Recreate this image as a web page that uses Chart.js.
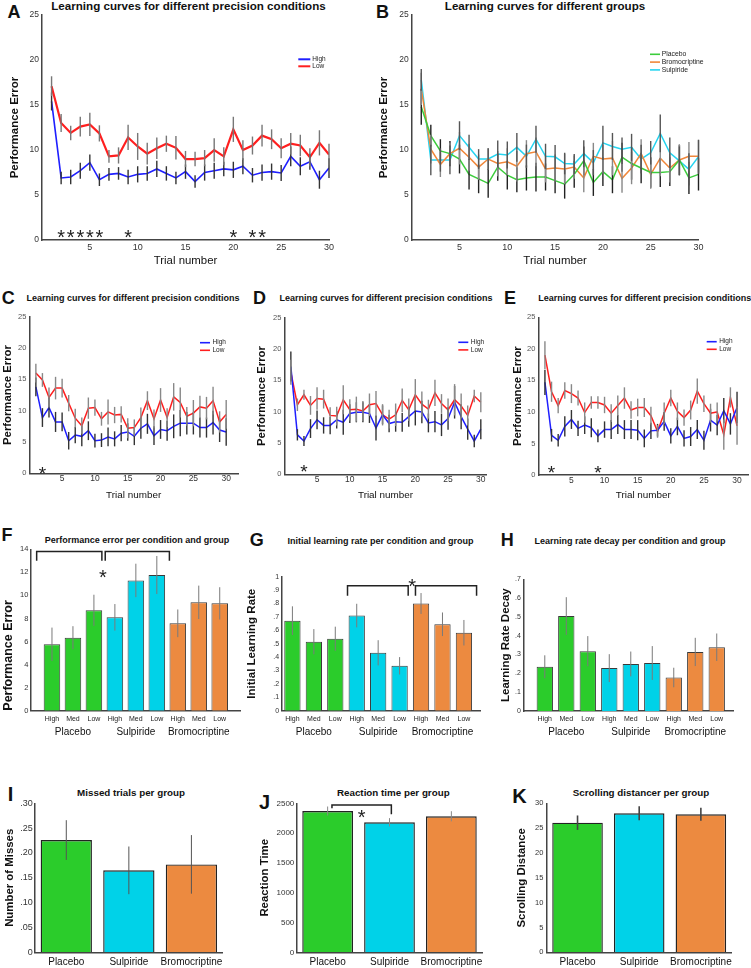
<!DOCTYPE html>
<html>
<head>
<meta charset="utf-8">
<script src="https://cdn.jsdelivr.net/npm/chart.js@4.4.1/dist/chart.umd.min.js"></script>
<style>
html, body { margin: 0; padding: 0; background: #fff; }
#fig { position: relative; width: 751px; height: 968px; overflow: hidden; background: #fff;
       font-family: "Liberation Sans", Arial, Helvetica, sans-serif; }
#fig canvas { position: absolute; }
.t { position: absolute; white-space: nowrap; line-height: 1; color: #111; font-weight: bold;
     transform: translate(-50%, -50%); }
.t.left { transform: translate(0, -50%); }
</style>
</head>
<body>
<div id="fig">
  <!-- panel letters -->
  <div class="t" style="left:14px;top:11.5px;font-size:18px">A</div>
  <div class="t" style="left:382.5px;top:11.5px;font-size:18px">B</div>
  <div class="t" style="left:8.3px;top:298.3px;font-size:18px">C</div>
  <div class="t" style="left:259.5px;top:298px;font-size:18px">D</div>
  <div class="t" style="left:510px;top:298px;font-size:18px">E</div>
  <div class="t" style="left:7px;top:534.5px;font-size:18px">F</div>
  <div class="t" style="left:256.7px;top:539.7px;font-size:18px">G</div>
  <div class="t" style="left:507.2px;top:540px;font-size:18px">H</div>
  <div class="t" style="left:10.5px;top:794px;font-size:20px">I</div>
  <div class="t" style="left:264.5px;top:802px;font-size:20px">J</div>
  <div class="t" style="left:519.5px;top:795.5px;font-size:20px">K</div>
  <!-- panel titles -->
  <div class="t" style="left:188.5px;top:5.5px;font-size:11.6px">Learning curves for different precision conditions</div>
  <div class="t" style="left:545px;top:5.5px;font-size:11.6px">Learning curves for different groups</div>
  <div class="t" style="left:133px;top:297.7px;font-size:9px">Learning curves for different precision conditions</div>
  <div class="t" style="left:386px;top:297.7px;font-size:9px">Learning curves for different precision conditions</div>
  <div class="t left" style="left:538.3px;top:297.7px;font-size:9px">Learning curves for different precision conditions</div>
  <div class="t" style="left:137px;top:540px;font-size:9px">Performance error per condition and group</div>
  <div class="t" style="left:380.6px;top:540.7px;font-size:9px">Initial learning rate per condition and group</div>
  <div class="t" style="left:630px;top:540.7px;font-size:9px">Learning rate decay per condition and group</div>
  <div class="t" style="left:131px;top:792.7px;font-size:9.8px">Missed trials per group</div>
  <div class="t" style="left:393.3px;top:792.7px;font-size:9.8px">Reaction time per group</div>
  <div class="t" style="left:641px;top:792.7px;font-size:9.8px">Scrolling distancer per group</div>
</div>
<script>
const FONT = '"Liberation Sans", Arial, Helvetica, sans-serif';
Chart.defaults.font.family = FONT;
Chart.defaults.color = '#333';

// colours
const BLUE = '#1f1fff';
const RED = '#ff1f1f';
const GREEN = '#2bcc2b';
const CYAN = '#00d2e8';
const ORANGE = '#ec8a40';

// trials on the x axis of the learning curves
const trials = [1, 2, 3, 4, 5, 6, 7, 8, 9, 10, 11, 12, 13, 14, 15, 16, 17, 18, 19, 20, 21, 22, 23, 24, 25, 26, 27, 28, 29, 30];

// A - all groups, high vs low precision
const highA = [15.4, 6.9, 7.0, 7.7, 8.6, 6.7, 7.3, 7.4, 7.0, 7.3, 7.4, 7.9, 7.4, 6.9, 7.6, 6.5, 7.5, 7.7, 7.9, 7.8, 8.2, 7.2, 7.5, 7.6, 7.45, 9.3, 8.2, 8.7, 6.7, 8.0];
const highAErr = [1.0, 0.7, 0.8, 0.9, 0.9, 0.7, 0.7, 0.7, 0.8, 0.9, 0.8, 0.9, 0.8, 0.7, 0.8, 0.7, 0.9, 0.9, 0.8, 0.9, 0.9, 0.8, 0.9, 0.9, 0.9, 1.1, 1.0, 0.9, 1.0, 1.1];
const lowA = [17.1, 13.0, 11.9, 12.6, 12.85, 11.85, 9.3, 9.4, 11.4, 10.4, 9.6, 10.2, 10.7, 10.25, 9.0, 9.0, 9.1, 10.0, 9.3, 12.3, 10.0, 10.5, 11.6, 11.2, 10.2, 10.7, 10.5, 9.2, 10.8, 9.5];
const lowAErr = [1.1, 1.0, 0.8, 1.1, 1.3, 0.9, 0.7, 0.9, 1.4, 1.5, 1.2, 1.2, 0.9, 1.3, 0.9, 0.8, 0.9, 1.3, 1.0, 1.4, 1.1, 1.0, 1.2, 1.1, 1.1, 1.2, 1.2, 1.0, 1.4, 1.2];
const sigA = [2, 3, 4, 5, 6, 9, 20, 22, 23];

// B - per group
const placeboB = [14.8, 11.6, 9.9, 9.6, 9.0, 7.3, 6.8, 6.3, 8.1, 7.2, 6.7, 6.9, 7.0, 7.0, 6.6, 6.2, 7.3, 8.8, 6.4, 7.6, 6.7, 9.2, 8.5, 8.0, 7.5, 7.5, 7.6, 8.9, 6.9, 7.3];
const placeboBErr = [2.0, 1.2, 1.3, 1.4, 1.6, 1.7, 1.6, 1.6, 1.5, 1.6, 1.4, 1.4, 1.6, 1.5, 1.4, 1.6, 1.5, 1.6, 1.5, 1.6, 1.5, 1.6, 1.8, 1.7, 1.7, 1.6, 1.6, 1.7, 1.8, 1.8];
const bromoB = [16.8, 10.1, 8.4, 9.6, 10.2, 9.2, 8.1, 9.0, 8.5, 8.7, 8.2, 9.6, 9.8, 7.9, 8.0, 7.9, 8.1, 6.9, 9.3, 9.0, 9.1, 6.85, 8.0, 9.6, 7.3, 9.1, 8.0, 8.9, 9.3, 9.3];
const bromoBErr = [1.8, 1.6, 1.4, 1.2, 1.8, 1.5, 1.4, 1.2, 1.4, 1.5, 1.7, 1.5, 1.6, 1.5, 1.5, 1.7, 1.3, 1.6, 1.5, 1.6, 1.9, 1.6, 1.8, 1.6, 1.6, 2.0, 1.6, 1.7, 1.6, 1.8];
const sulpB = [17.8, 8.9, 8.9, 8.9, 11.6, 10.3, 9.0, 9.0, 9.55, 9.45, 10.3, 9.3, 11.2, 9.3, 9.25, 8.5, 8.45, 9.6, 8.6, 10.8, 10.4, 10.1, 10.3, 9.0, 9.7, 11.85, 9.7, 8.8, 7.85, 9.25];
const sulpBErr = [1.2, 1.7, 1.3, 1.6, 1.6, 1.4, 1.1, 1.2, 1.5, 1.5, 1.6, 1.3, 1.5, 1.4, 1.3, 1.2, 1.1, 1.5, 1.4, 1.9, 1.5, 1.3, 1.5, 1.6, 1.3, 2.1, 1.7, 1.6, 1.8, 1.9];

// C
const highC = [13.8, 8.9, 10.5, 8.2, 8.2, 5.2, 6.1, 5.9, 6.8, 5.2, 5.3, 5.8, 5.5, 6.4, 6.6, 5.9, 7.2, 7.9, 6.0, 7.0, 6.8, 7.5, 8.0, 8.0, 8.0, 7.3, 7.3, 8.1, 6.9, 6.6];
const highCErr = [1.5, 1.5, 1.6, 1.6, 1.5, 1.4, 1.3, 1.6, 1.5, 1.1, 1.1, 1.5, 1.2, 1.3, 1.4, 1.4, 1.7, 1.6, 1.5, 1.5, 1.6, 1.9, 2.1, 1.8, 1.8, 1.6, 1.6, 1.9, 1.9, 2.2];
const lowC = [16.0, 14.9, 12.1, 13.6, 13.6, 11.2, 8.8, 7.6, 10.4, 10.5, 8.7, 9.8, 9.3, 9.4, 7.2, 7.3, 8.9, 11.6, 8.7, 11.7, 8.9, 12.2, 11.3, 9.1, 9.6, 10.6, 10.4, 11.6, 8.2, 9.4];
const lowCErr = [1.5, 1.1, 1.6, 1.8, 1.5, 1.3, 1.5, 1.3, 1.7, 1.3, 1.1, 2.0, 1.3, 1.3, 1.6, 1.3, 1.6, 1.5, 1.5, 1.9, 1.5, 2.2, 2.4, 1.5, 2.1, 1.8, 1.8, 2.2, 1.7, 2.3];
const sigC = [2];

// D
const highD = [17.2, 6.3, 5.3, 7.3, 8.7, 7.8, 7.8, 8.7, 8.3, 9.7, 9.9, 9.9, 9.7, 7.4, 9.5, 8.1, 8.4, 8.3, 9.2, 10.1, 9.95, 8.2, 8.4, 7.9, 8.9, 11.5, 9.2, 7.2, 5.3, 7.2];
const highDErr = [2.4, 0.9, 0.8, 1.5, 1.5, 1.3, 1.4, 1.4, 2.0, 1.5, 1.6, 1.6, 1.5, 2.0, 1.5, 1.4, 1.6, 1.5, 1.6, 2.3, 1.8, 1.5, 1.7, 1.8, 1.8, 2.6, 2.0, 1.7, 1.0, 1.6];
const lowD = [16.3, 11.1, 12.7, 11.0, 12.1, 12.0, 9.4, 9.3, 11.9, 10.3, 10.4, 10.1, 11.1, 11.3, 9.5, 8.8, 9.5, 11.8, 10.3, 12.7, 11.2, 10.4, 13.0, 11.3, 10.3, 11.9, 10.9, 9.4, 12.5, 11.5];
const lowDErr = [2.0, 1.0, 0.8, 1.5, 1.8, 1.5, 1.3, 1.5, 2.3, 1.7, 2.0, 1.6, 1.8, 2.0, 1.7, 1.5, 1.8, 1.9, 1.8, 2.5, 2.0, 1.5, 2.1, 1.5, 1.8, 2.5, 2.0, 1.6, 1.0, 1.6];
const sigD = [3];

// E
const highE = [14.7, 6.3, 5.5, 7.7, 8.8, 7.4, 7.9, 7.5, 6.2, 7.2, 7.2, 8.0, 7.2, 7.2, 7.1, 5.8, 7.0, 7.1, 8.5, 6.2, 7.7, 5.8, 6.1, 7.2, 5.5, 8.7, 7.9, 10.2, 8.1, 10.7];
const highEErr = [2.0, 1.0, 1.0, 1.6, 1.5, 1.2, 1.4, 1.5, 1.0, 1.3, 1.5, 1.5, 1.5, 1.5, 1.6, 1.4, 1.3, 1.0, 1.5, 1.2, 1.4, 1.3, 1.5, 1.5, 1.5, 1.8, 1.6, 2.0, 1.7, 2.5];
const lowE = [19.0, 13.2, 11.0, 13.4, 12.9, 12.2, 9.9, 11.5, 11.5, 11.1, 9.8, 11.0, 12.2, 10.3, 10.7, 10.7, 9.4, 6.9, 9.8, 12.2, 10.1, 9.1, 10.3, 13.3, 11.3, 9.8, 10.0, 6.4, 12.3, 7.8];
const lowEErr = [2.2, 1.6, 1.2, 1.3, 1.5, 1.2, 1.6, 1.0, 1.0, 1.3, 1.4, 1.6, 1.7, 1.4, 1.4, 1.5, 1.4, 1.0, 1.7, 1.3, 1.4, 1.3, 1.5, 2.0, 1.3, 1.5, 1.5, 2.4, 1.6, 3.0];
const sigE = [2, 9];

// F, G, H - per condition and group
const barPos = [1, 2, 3, 4, 5, 6, 7, 8, 9];
const conditions = ['High', 'Med', 'Low', 'High', 'Med', 'Low', 'High', 'Med', 'Low'];
const groups = ['Placebo', 'Sulpiride', 'Bromocriptine'];
const groupMiddle = [2, 5, 8];
const barColors = [GREEN, GREEN, GREEN, CYAN, CYAN, CYAN, ORANGE, ORANGE, ORANGE];

const perfError = [5.76, 6.33, 8.71, 8.1, 11.3, 11.77, 7.58, 9.4, 9.31];
const perfErrorSE = [1.45, 1.0, 1.35, 1.15, 1.45, 1.65, 1.2, 1.45, 1.4];
const initRate = [0.672, 0.515, 0.537, 0.71, 0.432, 0.335, 0.80, 0.645, 0.582];
const initRateSE = [0.107, 0.094, 0.09, 0.088, 0.094, 0.065, 0.078, 0.088, 0.095];
const rateDecay = [0.235, 0.505, 0.318, 0.228, 0.25, 0.255, 0.178, 0.314, 0.339];
const rateDecaySE = [0.061, 0.10, 0.08, 0.074, 0.066, 0.09, 0.052, 0.075, 0.073];

// I, J, K - per group
const groupColors = [GREEN, CYAN, ORANGE];
const misses = [0.226, 0.165, 0.177];
const missesSE = [0.04, 0.048, 0.059];
const reaction = [2371, 2181, 2282];
const reactionSE = [75, 70, 85];
const scrolling = [26.1, 27.99, 27.8];
const scrollingSE = [1.45, 1.4, 1.3];

// ---------- plugins ----------

// vertical error bars from dataset.errors
const errorBars = {
    id: 'errorBars',
    afterDatasetsDraw(chart) {
        const ctx = chart.ctx;
        const ys = chart.scales.y;
        chart.data.datasets.forEach((ds, i) => {
            if (!ds.errors) return;
            const meta = chart.getDatasetMeta(i);
            ctx.save();
            ctx.strokeStyle = ds.errorColor || '#333';
            ctx.lineWidth = ds.errorWidth || 1.5;
            meta.data.forEach((el, j) => {
                const v = ds.data[j], e = ds.errors[j];
                ctx.beginPath();
                ctx.moveTo(el.x, ys.getPixelForValue(v + e));
                ctx.lineTo(el.x, ys.getPixelForValue(v - e));
                ctx.stroke();
            });
            ctx.restore();
        });
    }
};

// significance asterisks
const stars = {
    id: 'stars',
    afterDatasetsDraw(chart, args, opts) {
        if (!opts || !opts.items) return;
        const ctx = chart.ctx;
        const size = opts.size || 20;
        ctx.save();
        ctx.fillStyle = '#222';
        ctx.font = size + 'px ' + FONT;
        ctx.textAlign = 'center';
        ctx.textBaseline = 'alphabetic';
        opts.items.forEach(s => {
            const px = chart.scales.x.getPixelForValue(s.x);
            const py = chart.scales.y.getPixelForValue(s.y);
            ctx.fillText('*', px, py + size * 0.58);
        });
        ctx.restore();
    }
};

// comparison brackets: [x1, x2, top, leftLegEnd, rightLegEnd]
const brackets = {
    id: 'brackets',
    afterDatasetsDraw(chart, args, opts) {
        if (!opts || !opts.items) return;
        const ctx = chart.ctx, xs = chart.scales.x, ys = chart.scales.y;
        ctx.save();
        ctx.strokeStyle = '#222';
        ctx.lineWidth = 1.5;
        opts.items.forEach(b => {
            const x1 = xs.getPixelForValue(b[0]), x2 = xs.getPixelForValue(b[1]);
            const yt = ys.getPixelForValue(b[2]);
            ctx.beginPath();
            ctx.moveTo(x1, ys.getPixelForValue(b[3]));
            ctx.lineTo(x1, yt);
            ctx.lineTo(x2, yt);
            ctx.lineTo(x2, ys.getPixelForValue(b[4]));
            ctx.stroke();
        });
        ctx.restore();
    }
};

// group names under the condition ticks
const groupLabels = {
    id: 'groupLabels',
    afterDraw(chart, args, opts) {
        if (!opts || !opts.names) return;
        const ctx = chart.ctx, xs = chart.scales.x;
        ctx.save();
        ctx.fillStyle = '#111';
        ctx.font = '10px ' + FONT;
        ctx.textAlign = 'center';
        ctx.textBaseline = 'middle';
        opts.names.forEach((n, i) => {
            ctx.fillText(n, xs.getPixelForValue(opts.at[i]), chart.chartArea.bottom + opts.dy);
        });
        ctx.restore();
    }
};

// small legend inside the plot
const cornerLegend = {
    id: 'cornerLegend',
    afterDraw(chart, args, opts) {
        if (!opts || opts.x === undefined) return;
        const ctx = chart.ctx;
        ctx.save();
        ctx.font = opts.size + 'px ' + FONT;
        ctx.textBaseline = 'middle';
        ctx.textAlign = 'left';
        const order = opts.order || chart.data.datasets.map((d, i) => i);
        order.forEach((di, k) => {
            const ds = chart.data.datasets[di];
            const yy = opts.y + k * opts.gap;
            ctx.strokeStyle = ds.borderColor;
            ctx.lineWidth = opts.width;
            ctx.beginPath();
            ctx.moveTo(opts.x, yy);
            ctx.lineTo(opts.x + opts.len, yy);
            ctx.stroke();
            ctx.fillStyle = '#222';
            ctx.fillText(ds.label, opts.x + opts.len + opts.space, yy);
        });
        ctx.restore();
    }
};

// ---------- helpers ----------

const fig = document.getElementById('fig');

// box: plot area on the page (L,T,R,B), canvas left (cl) and canvas bottom (cb)
function panel(box, config) {
    const ct = Math.floor(box.T) - 8;
    const cr = Math.ceil(box.R) + 8;
    const canvas = document.createElement('canvas');
    canvas.width = cr - box.cl;
    canvas.height = box.cb - ct;
    canvas.style.left = box.cl + 'px';
    canvas.style.top = ct + 'px';
    fig.appendChild(canvas);

    const o = config.options;
    o.responsive = false;
    o.animation = false;
    o.layout = { padding: { left: 0, top: box.T - ct, right: cr - box.R, bottom: 0 } };
    o.scales.x.afterFit = s => { s.height = box.cb - box.B; };
    o.scales.y.afterFit = s => { s.width = box.L - box.cl; };
    o.plugins = Object.assign({ legend: { display: false }, tooltip: { enabled: false } }, o.plugins);
    if (o.plugins.cornerLegend) {
        o.plugins.cornerLegend.x -= box.cl;
        o.plugins.cornerLegend.y -= ct;
    }
    config.plugins = [errorBars, stars, brackets, groupLabels, cornerLegend];
    return new Chart(canvas, config);
}

function trialAxis(max, size, pad, titleSize, titleY, cb) {
    return {
        type: 'linear', min: 0, max: max, offset: false,
        grid: { display: false, drawTicks: false },
        border: { color: '#444', width: 1.5 },
        ticks: {
            stepSize: 5, includeBounds: false, autoSkip: false, maxRotation: 0,
            padding: pad, color: '#333', font: { size: size },
            callback: v => v === 0 ? '' : v
        },
        title: {
            display: true, text: 'Trial number', color: '#111',
            font: { size: titleSize },
            padding: { top: 0, bottom: cb - titleY - titleSize * 0.6 }
        }
    };
}

function valueAxis(o) {
    return {
        min: 0, max: o.max,
        grid: { display: false, drawTicks: false },
        border: { color: '#444', width: 1.5 },
        ticks: {
            stepSize: o.step, padding: o.pad || 3, color: o.color || '#333',
            font: { size: o.size }, callback: o.format || (v => v)
        },
        title: {
            display: true, text: o.title, color: '#111', align: o.align || 'center',
            font: { size: o.titleSize, weight: 'bold' },
            padding: { top: o.titleX - o.cl - o.titleSize * 0.6, bottom: 0 }
        }
    };
}

function lineSet(label, data, errors, color, width, errColor) {
    return { label: label, data: data, errors: errors, errorColor: errColor, errorWidth: 1.4,
             borderColor: color, backgroundColor: color, borderWidth: width, fill: false };
}

const lineElements = { point: { radius: 0 }, line: { tension: 0 } };

function decimalLabel(v) {
    if (v === 0) return '0';
    if (Math.abs(v - 1) < 1e-9) return '1';
    return '.' + Math.round(v * 10);
}

function hundredthLabel(v) {
    if (v === 0) return '0';
    return '.' + String(Math.round(v * 100)).padStart(2, '0');
}

// ---------- A ----------
panel({ L: 42, T: 15, R: 329, B: 240, cl: 8, cb: 269 }, {
    type: 'line',
    data: { labels: trials, datasets: [
        lineSet('High', highA, highAErr, BLUE, 1.6, '#333'),
        lineSet('Low', lowA, lowAErr, RED, 2.2, '#777')
    ] },
    options: {
        elements: lineElements,
        scales: {
            x: trialAxis(30, 9, 2.6, 11.4, 261, 269),
            y: valueAxis({ max: 25, step: 5, size: 8.5, title: 'Performance Error', titleSize: 11.5, titleX: 15, cl: 8 })
        },
        plugins: {
            stars: { items: sigA.map(t => ({ x: t, y: 0.9 })), size: 20 },
            cornerLegend: { x: 298.3, y: 59.3, gap: 7, len: 12, space: 2, size: 6.5, width: 2 }
        }
    }
});

// ---------- B ----------
panel({ L: 411.7, T: 15, R: 698.5, B: 240, cl: 377, cb: 269 }, {
    type: 'line',
    data: { labels: trials, datasets: [
        lineSet('Placebo', placeboB, placeboBErr, '#3ccc3c', 1.5, '#222'),
        lineSet('Bromocriptine', bromoB, bromoBErr, '#f0873a', 1.5, '#888'),
        lineSet('Sulpiride', sulpB, sulpBErr, '#26d4f0', 1.5, '#555')
    ] },
    options: {
        elements: lineElements,
        scales: {
            x: trialAxis(30, 9, 2.6, 11.4, 261, 269),
            y: valueAxis({ max: 25, step: 5, size: 8.5, title: 'Performance Error', titleSize: 11.5, titleX: 384, cl: 377 })
        },
        plugins: {
            cornerLegend: { x: 650, y: 54.3, gap: 7.8, len: 10, space: 1.7, size: 6.8, width: 1.6 }
        }
    }
});

// ---------- C, D, E ----------
function precisionPanel(box, max, high, highErr, low, lowErr, sig, starY, yTitleX, legend) {
    return panel(box, {
        type: 'line',
        data: { labels: trials, datasets: [
            lineSet('High', high, highErr, BLUE, 1.5, '#333'),
            lineSet('Low', low, lowErr, RED, 1.5, '#888')
        ] },
        options: {
            elements: lineElements,
            scales: {
                x: trialAxis(max, 8.5, 0.5, 9.9, 495, box.cb),
                y: valueAxis({ max: 25, step: 5, size: 7.5, color: '#555', title: 'Performance Error',
                               titleSize: 11.3, titleX: yTitleX, cl: box.cl })
            },
            plugins: {
                stars: { items: sig.map(t => ({ x: t, y: starY })), size: 19 },
                cornerLegend: Object.assign({ gap: 7.6, len: 10, space: 2.5, size: 6.5, width: 1.6 }, legend)
            }
        }
    });
}

precisionPanel({ L: 29.3, T: 316.7, R: 238, B: 473.3, cl: 0, cb: 502 }, 31.8,
    highC, highCErr, lowC, lowCErr, sigC, 0.7, 7.8, { x: 200, y: 342.7 });
precisionPanel({ L: 284.3, T: 317.7, R: 486.7, B: 474.3, cl: 254, cb: 502 }, 30.9,
    highD, highDErr, lowD, lowDErr, sigD, 1.2, 261.7, { x: 458.3, y: 342.3 });
precisionPanel({ L: 538.3, T: 317.3, R: 748.3, B: 475, cl: 511, cb: 502 }, 31.7,
    highE, highEErr, lowE, lowEErr, sigE, 1.15, 518, { x: 706.7, y: 341.7 });

// ---------- F, G, H ----------
function conditionPanel(box, xmin, xmax, values, errs, yAxis, barPct, extra) {
    return panel(box, {
        type: 'bar',
        data: { labels: barPos, datasets: [{
            data: values, errors: errs, errorColor: '#7a7a7a', errorWidth: 1,
            backgroundColor: barColors, borderColor: '#3a3a3a', borderWidth: 1,
            barPercentage: barPct, categoryPercentage: 1
        }] },
        options: {
            scales: {
                x: {
                    type: 'linear', min: xmin, max: xmax, offset: false,
                    grid: { display: false, drawTicks: false },
                    border: { color: '#444', width: 1.5 },
                    ticks: { stepSize: 1, includeBounds: false, autoSkip: false, maxRotation: 0,
                             padding: 4.1, color: '#222', font: { size: 7 },
                             callback: v => conditions[v - 1] || '' }
                },
                y: yAxis
            },
            plugins: Object.assign({ groupLabels: { names: groups, at: groupMiddle, dy: 21.3 } }, extra)
        }
    });
}

conditionPanel({ L: 31, T: 549.3, R: 240.7, B: 710.7, cl: 0, cb: 743 }, 0, 10, perfError, perfErrorSE,
    valueAxis({ max: 14, step: 2, size: 7.5, pad: 2.7, title: 'Performance Error', titleSize: 12.5,
                titleX: 8.3, cl: 0, align: 'start' }), 0.79,
    { brackets: { items: [[0.27, 3.38, 13.8, 13.0, 13.0], [3.54, 6.6, 13.8, 13.0, 13.0]] },
      stars: { items: [{ x: 3.43, y: 12.0 }], size: 20 } });

conditionPanel({ L: 281.7, T: 576.7, R: 480, B: 710.7, cl: 244, cb: 743 }, 0.5, 9.75, initRate, initRateSE,
    valueAxis({ max: 1, step: 0.1, size: 7, pad: 2.5, format: decimalLabel, title: 'Initial Learning Rate',
                titleSize: 11.5, titleX: 251.5, cl: 244 }), 0.76,
    { brackets: { items: [[3.57, 6.4, 0.933, 0.858, 0.858], [6.74, 9.59, 0.933, 0.858, 0.858]] },
      stars: { items: [{ x: 6.58, y: 0.963 }], size: 20 } });

conditionPanel({ L: 523.3, T: 579.3, R: 733.3, B: 711, cl: 498, cb: 743 }, 0, 9.77, rateDecay, rateDecaySE,
    valueAxis({ max: 0.7, step: 0.1, size: 7, pad: 2.5, format: decimalLabel, title: 'Learning Rate Decay',
                titleSize: 11.5, titleX: 505.5, cl: 498 }), 0.76, {});

// ---------- I, J, K ----------
function groupPanel(box, values, errs, errColor, errWidth, yAxis, extra) {
    return panel(box, {
        type: 'bar',
        data: { labels: groups, datasets: [{
            data: values, errors: errs, errorColor: errColor, errorWidth: errWidth,
            backgroundColor: groupColors, borderColor: '#222', borderWidth: 1.4,
            barPercentage: 0.82, categoryPercentage: 1
        }] },
        options: {
            scales: {
                x: {
                    grid: { display: false, drawTicks: false },
                    border: { color: '#444', width: 1.5 },
                    ticks: { padding: 4.4, color: '#111', font: { size: 10 }, maxRotation: 0, autoSkip: false }
                },
                y: yAxis
            },
            plugins: extra
        }
    });
}

groupPanel({ L: 35, T: 803.3, R: 222.7, B: 952.3, cl: 3, cb: 968 }, misses, missesSE, '#555', 1,
    valueAxis({ max: 0.3, step: 0.05, size: 9, pad: 2.3, format: hundredthLabel, title: 'Number of Misses',
                titleSize: 11.4, titleX: 10, cl: 3 }), {});

groupPanel({ L: 296.7, T: 803.3, R: 482.3, B: 952.3, cl: 257, cb: 968 }, reaction, reactionSE, '#888', 1,
    valueAxis({ max: 2500, step: 500, size: 8, pad: 2.4, title: 'Reaction Time',
                titleSize: 11.4, titleX: 264.7, cl: 257 }),
    { brackets: { items: [[0.07, 1.03, 2471, 2416, 2315]] },
      stars: { items: [{ x: 0.55, y: 2349 }], size: 20 } });

groupPanel({ L: 546.7, T: 803.3, R: 731.7, B: 952.3, cl: 515, cb: 968 }, scrolling, scrollingSE, '#444', 1.6,
    valueAxis({ max: 30, step: 5, size: 7.5, pad: 3.4, title: 'Scrolling Distance',
                titleSize: 11.4, titleX: 522, cl: 515 }), {});
</script>
</body>
</html>
